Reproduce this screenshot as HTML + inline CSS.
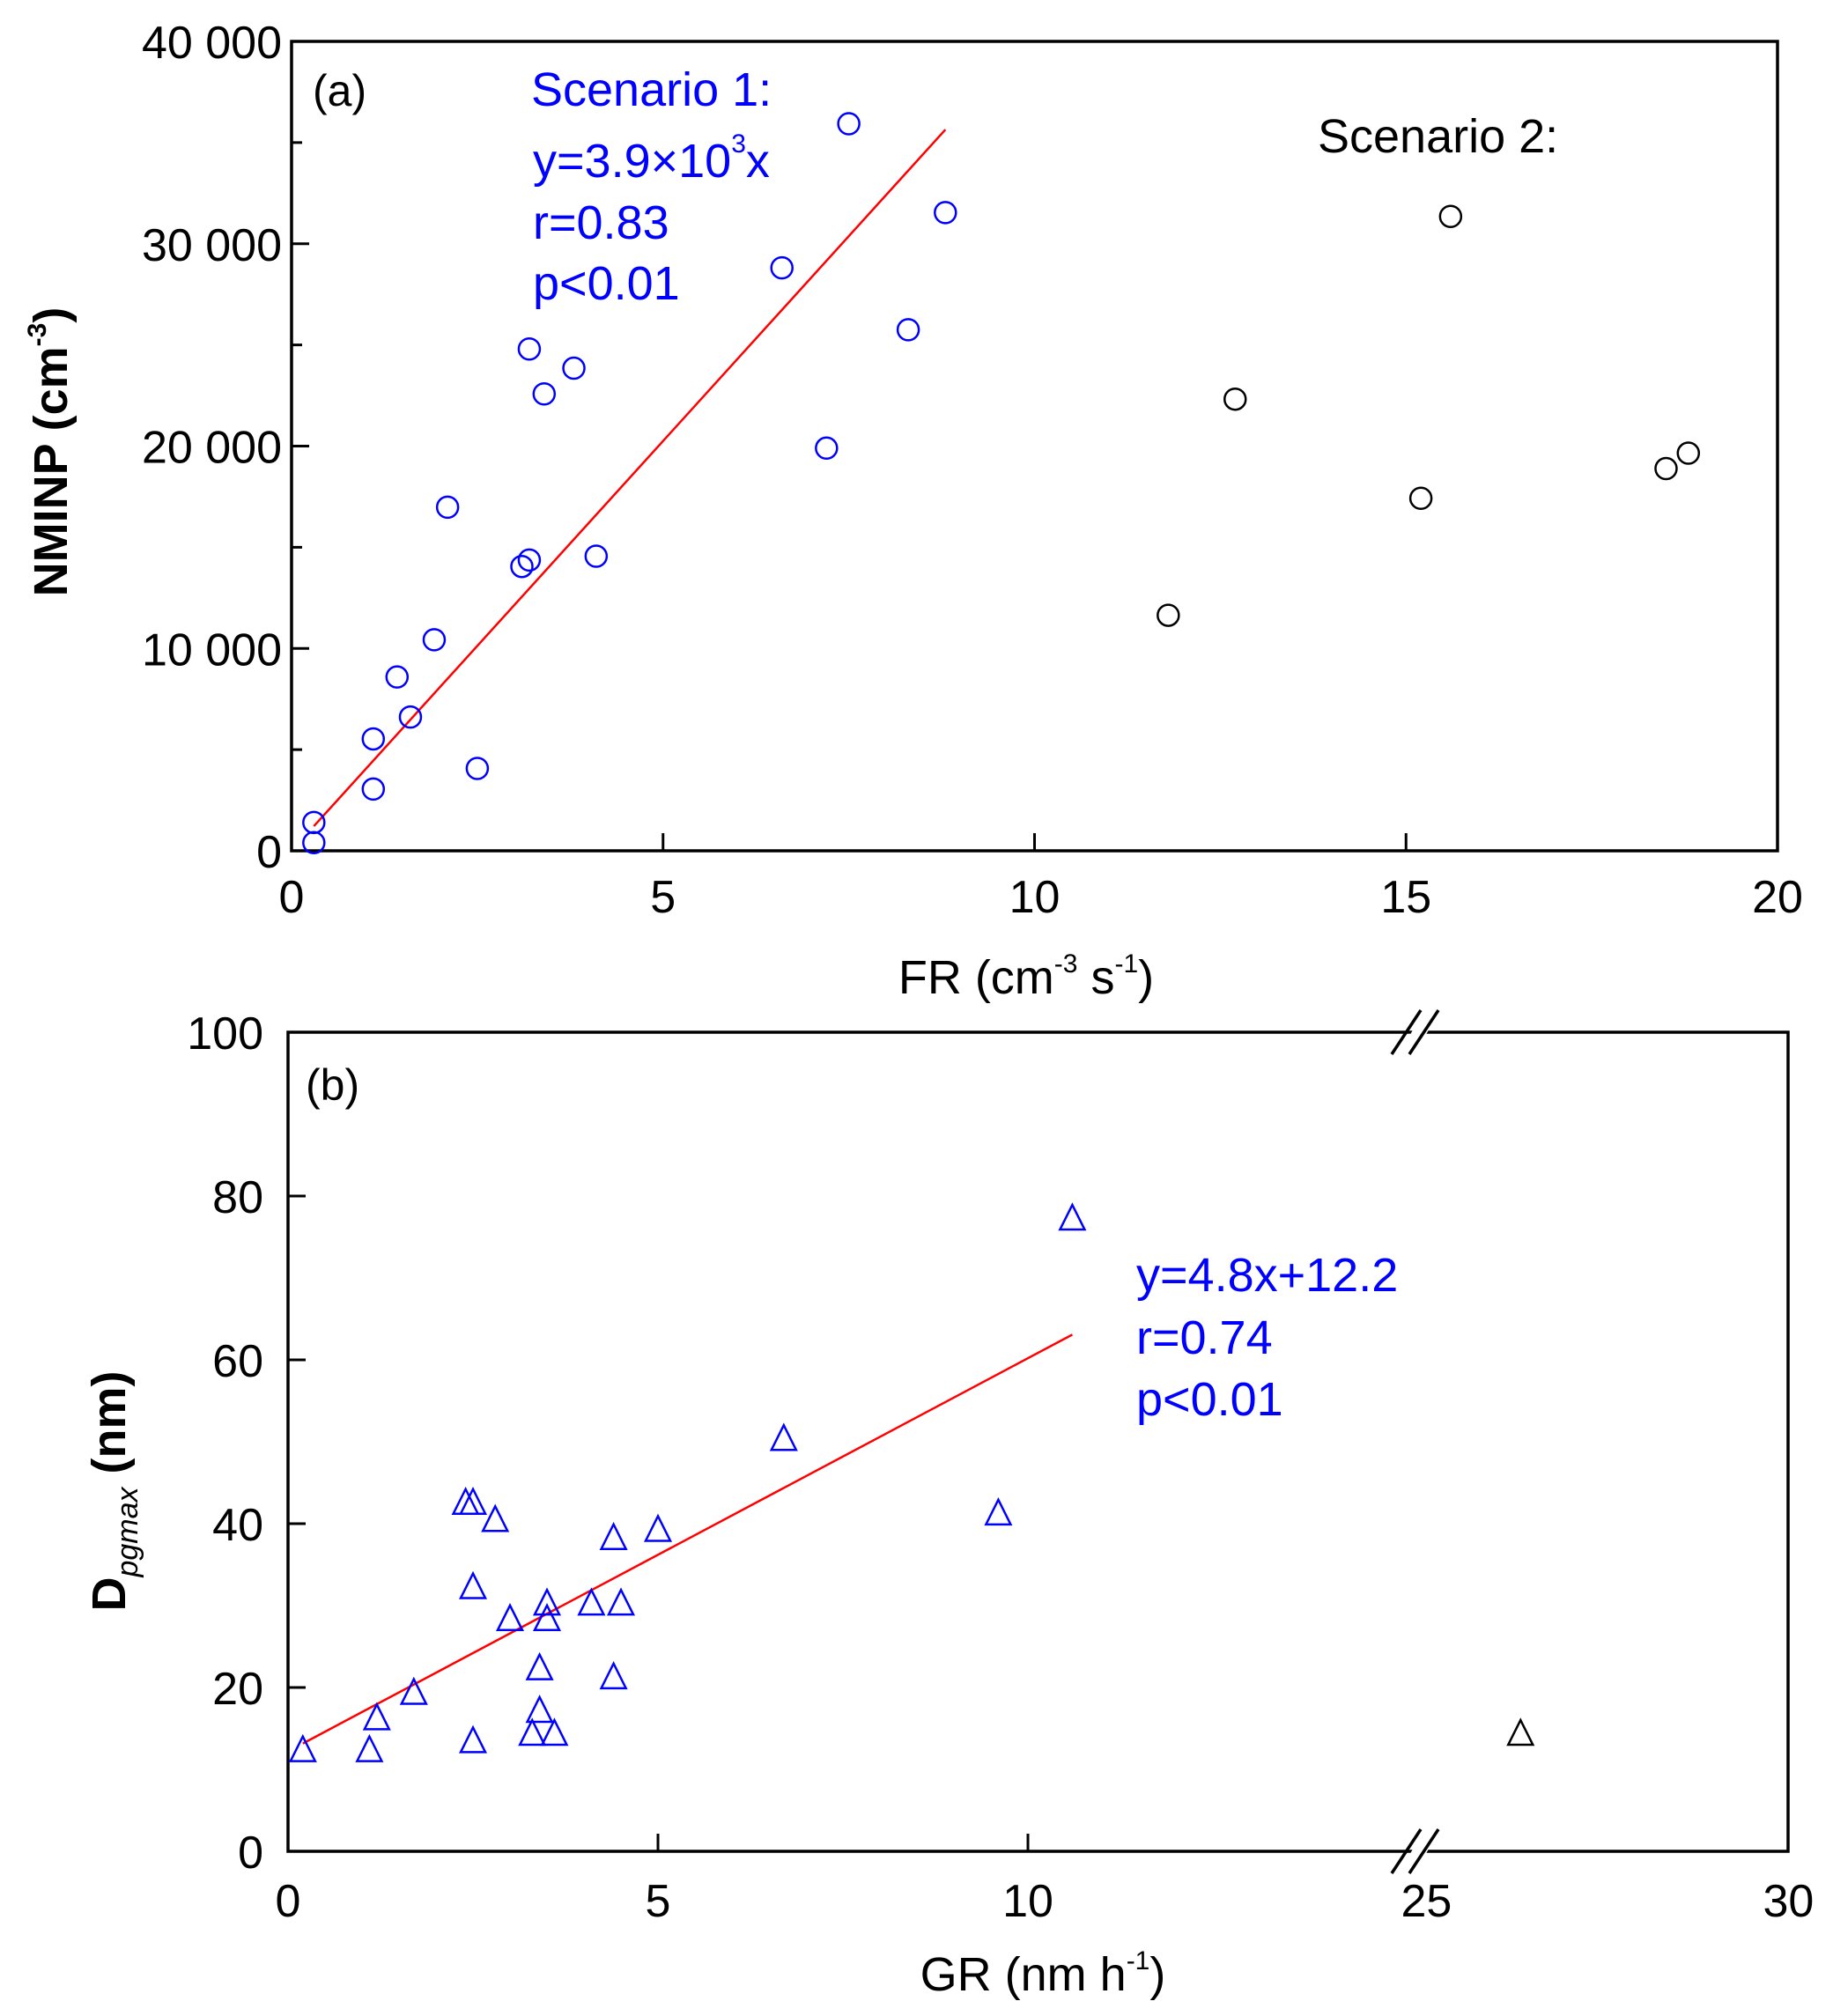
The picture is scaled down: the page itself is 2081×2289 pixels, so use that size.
<!DOCTYPE html>
<html><head><meta charset="utf-8"><style>
html,body{margin:0;padding:0;background:#fff;}
svg{display:block;font-family:"Liberation Sans",Arial,sans-serif;}
</style></head><body>
<svg id="chart" width="2081" height="2289" viewBox="0 0 2081 2289"></svg>
<script>
// Panel (a) data
const aBlueX=[0.3,0.3,1.1,1.1,1.42,1.6,1.92,2.1,2.5,3.1,3.2,3.2,3.4,3.8,4.1,6.6,7.2,7.5,8.3,8.8];
const aBlueY=[1400,400,5530,3050,8590,6610,10430,16980,4070,14050,14370,24800,22580,23850,14560,28810,19900,35930,25750,31540];
const aBlackX=[11.8,12.7,15.2,15.6,18.5,18.8];
const aBlackY=[11640,22320,17420,31350,18890,19650];
const aFit=[4050,0]; const aFitRange=[0.3,8.8];
const aXTicks=[0,5,10,15,20];
const aYTicks=[0,10000,20000,30000,40000];
const aYTickLabels=["0","10 000","20 000","30 000","40 000"];
// Panel (b) data
const bBlueX=[0.2,1.1,1.2,1.7,2.4,2.5,2.5,2.5,2.8,3.0,3.3,3.4,3.4,3.5,3.5,3.6,4.1,4.4,4.4,4.5,5.0,6.7,9.6,10.6];
const bBlueY=[12.3,12.3,16.2,19.3,42.5,42.5,32.2,13.4,40.4,28.3,14.3,22.3,17.1,30.2,28.3,14.3,30.2,38.2,21.2,30.2,39.2,50.3,41.2,77.2];
const bBlackX=[26.3];
const bBlackY=[14.3];
const bFit=[4.8,12.2]; const bFitRange=[0.2,10.6];
const bXTicks=[0,5,10,25,30];
const bYTicks=[0,20,40,60,80,100];

const svg=document.getElementById('chart');
const NS='http://www.w3.org/2000/svg';
function mk(tag,attrs,parent){const e=document.createElementNS(NS,tag);for(const k in attrs)e.setAttribute(k,attrs[k]);(parent||svg).appendChild(e);return e;}

const A={l:331,r:2018,t:47,b:966};
const ax=v=>A.l+(v-0)/20*(A.r-A.l);
const ay=v=>A.b-(v/40000)*(A.b-A.t);
const B={l:327,r:2030,t:1172,b:2102};
const bx=v=> v<=15.3 ? B.l+v*84.0 : 1612+(v-24.91)*82.2;
const by=v=>B.b-(v/100)*(B.b-B.t);

// ===== Panel A =====
const gA=mk('g',{});


const frA=mk('rect',{x:A.l,y:A.t,width:A.r-A.l,height:A.b-A.t,fill:'none',stroke:'#000','stroke-width':3.5},gA);


aXTicks.forEach((v,i)=>{
  const x=ax(v);
  if(i>0&&i<aXTicks.length-1){const t=mk('line',{x1:x,x2:x,y1:A.b,y2:A.b-20,stroke:'#000','stroke-width':3},gA);
  
  }
  const tx=mk('text',{x:x,y:1036,'font-size':52,'text-anchor':'middle'},gA);tx.textContent=v;
  
  
});
for(let v=5000;v<40000;v+=5000){
  const y=ay(v);const major=v%10000===0;
  const t=mk('line',{x1:A.l,x2:A.l+(major?20:12),y1:y,y2:y,stroke:'#000','stroke-width':3},gA);
  
  
}
aYTicks.forEach((v,i)=>{
  const tx=mk('text',{x:320,y:ay(v)+19,'font-size':52,'text-anchor':'end'},gA);tx.textContent=aYTickLabels[i];
  
  
});
const fa=mk('line',{x1:ax(aFitRange[0]),y1:ay(aFit[0]*aFitRange[0]+aFit[1]),x2:ax(aFitRange[1]),y2:ay(aFit[0]*aFitRange[1]+aFit[1]),stroke:'#f00','stroke-width':2.5},gA);


aBlueX.forEach((x,i)=>{const c=mk('circle',{cx:ax(x),cy:ay(aBlueY[i]),r:12,fill:'none',stroke:'#00f','stroke-width':2.5},gA);
  
  });
aBlackX.forEach((x,i)=>{const c=mk('circle',{cx:ax(x),cy:ay(aBlackY[i]),r:12,fill:'none',stroke:'#000','stroke-width':2.5},gA);
  
  });

// ===== Panel B =====
const gB=mk('g',{});


const frB=mk('rect',{x:B.l,y:B.t,width:B.r-B.l,height:B.b-B.t,fill:'none',stroke:'#000','stroke-width':3.5},gB);


[B.t,B.b].forEach(yy=>{
  const gap=mk('polygon',{points:`${1590},${yy+22} ${1615},${yy-22} ${1633},${yy-22} ${1608},${yy+22}`,fill:'#fff',stroke:'none'},gB);
  
  
  [[1580,1605],[1600,1625]].forEach(p=>{
    const l=mk('line',{x1:p[0],y1:yy+25,x2:p[1]+8,y2:yy-25,stroke:'#000','stroke-width':3.5},gB);
    
    
  });
});
bXTicks.forEach((v,i)=>{
  const x=bx(v);
  if(v!==0&&v!==30&&v!==25){const t=mk('line',{x1:x,x2:x,y1:B.b,y2:B.b-20,stroke:'#000','stroke-width':3},gB);
  
  }
  const tx=mk('text',{x:x,y:2176,'font-size':52,'text-anchor':'middle'},gB);tx.textContent=v;
  
  
});
bYTicks.forEach(v=>{
  const y=by(v);
  if(v!==0&&v!==100){const t=mk('line',{x1:B.l,x2:B.l+20,y1:y,y2:y,stroke:'#000','stroke-width':3},gB);
  
  }
  const tx=mk('text',{x:299,y:y+19,'font-size':52,'text-anchor':'end'},gB);tx.textContent=v;
  
  
});
const fb=mk('line',{x1:bx(bFitRange[0]),y1:by(bFit[0]*bFitRange[0]+bFit[1]),x2:bx(bFitRange[1]),y2:by(bFit[0]*bFitRange[1]+bFit[1]),stroke:'#f00','stroke-width':2.5},gB);


function tri(cx,cy,col){const h=14;return mk('polygon',{points:`${cx},${cy-h-2} ${cx-h},${cy+h-2} ${cx+h},${cy+h-2}`,fill:'none',stroke:col,'stroke-width':2.5},gB);}
bBlueX.forEach((x,i)=>{const t=tri(bx(x),by(bBlueY[i]),'#00f');
  
  });
bBlackX.forEach((x,i)=>{const t=tri(bx(x),by(bBlackY[i]),'#000');
  
  });
</script>
<svg width="2081" height="2289" viewBox="0 0 2081 2289" style="position:absolute;left:0;top:0;font-family:'Liberation Sans',Arial,sans-serif;">
  <text x="355" y="120" font-size="50">(a)</text>
  <g fill="#00f" font-size="54">
    <text x="603" y="120">Scenario 1:</text>
    <text x="605" y="201">y=3.9×10<tspan font-size="30" dy="-28">3</tspan><tspan dy="28">x</tspan></text>
    <text x="605" y="271">r=0.83</text>
    <text x="605" y="340">p&lt;0.01</text>
  </g>
  <text x="1496" y="173" font-size="54">Scenario 2:</text>
  <text transform="translate(76,513) rotate(-90)" font-size="54" font-weight="bold" text-anchor="middle">NMINP (cm<tspan font-size="30" dy="-24">-3</tspan><tspan dy="24">)</tspan></text>
  <text x="1165" y="1128" font-size="54" text-anchor="middle">FR (cm<tspan font-size="30" dy="-24">-3</tspan><tspan dy="24"> s</tspan><tspan font-size="30" dy="-24">-1</tspan><tspan dy="24">)</tspan></text>
  <text x="347" y="1249" font-size="50">(b)</text>
  <g fill="#00f" font-size="54">
    <text x="1290" y="1466">y=4.8x+12.2</text>
    <text x="1290" y="1537">r=0.74</text>
    <text x="1290" y="1607">p&lt;0.01</text>
  </g>
  <text transform="translate(142,1693) rotate(-90)" font-size="54" font-weight="bold" text-anchor="middle">D<tspan font-size="34" font-style="italic" font-weight="normal" dy="14">pgmax</tspan><tspan dy="-14"> (nm)</tspan></text>
  <text x="1184" y="2260" font-size="54" text-anchor="middle">GR (nm h<tspan font-size="30" dy="-24">-1</tspan><tspan dy="24">)</tspan></text>
</svg>
</body></html>
